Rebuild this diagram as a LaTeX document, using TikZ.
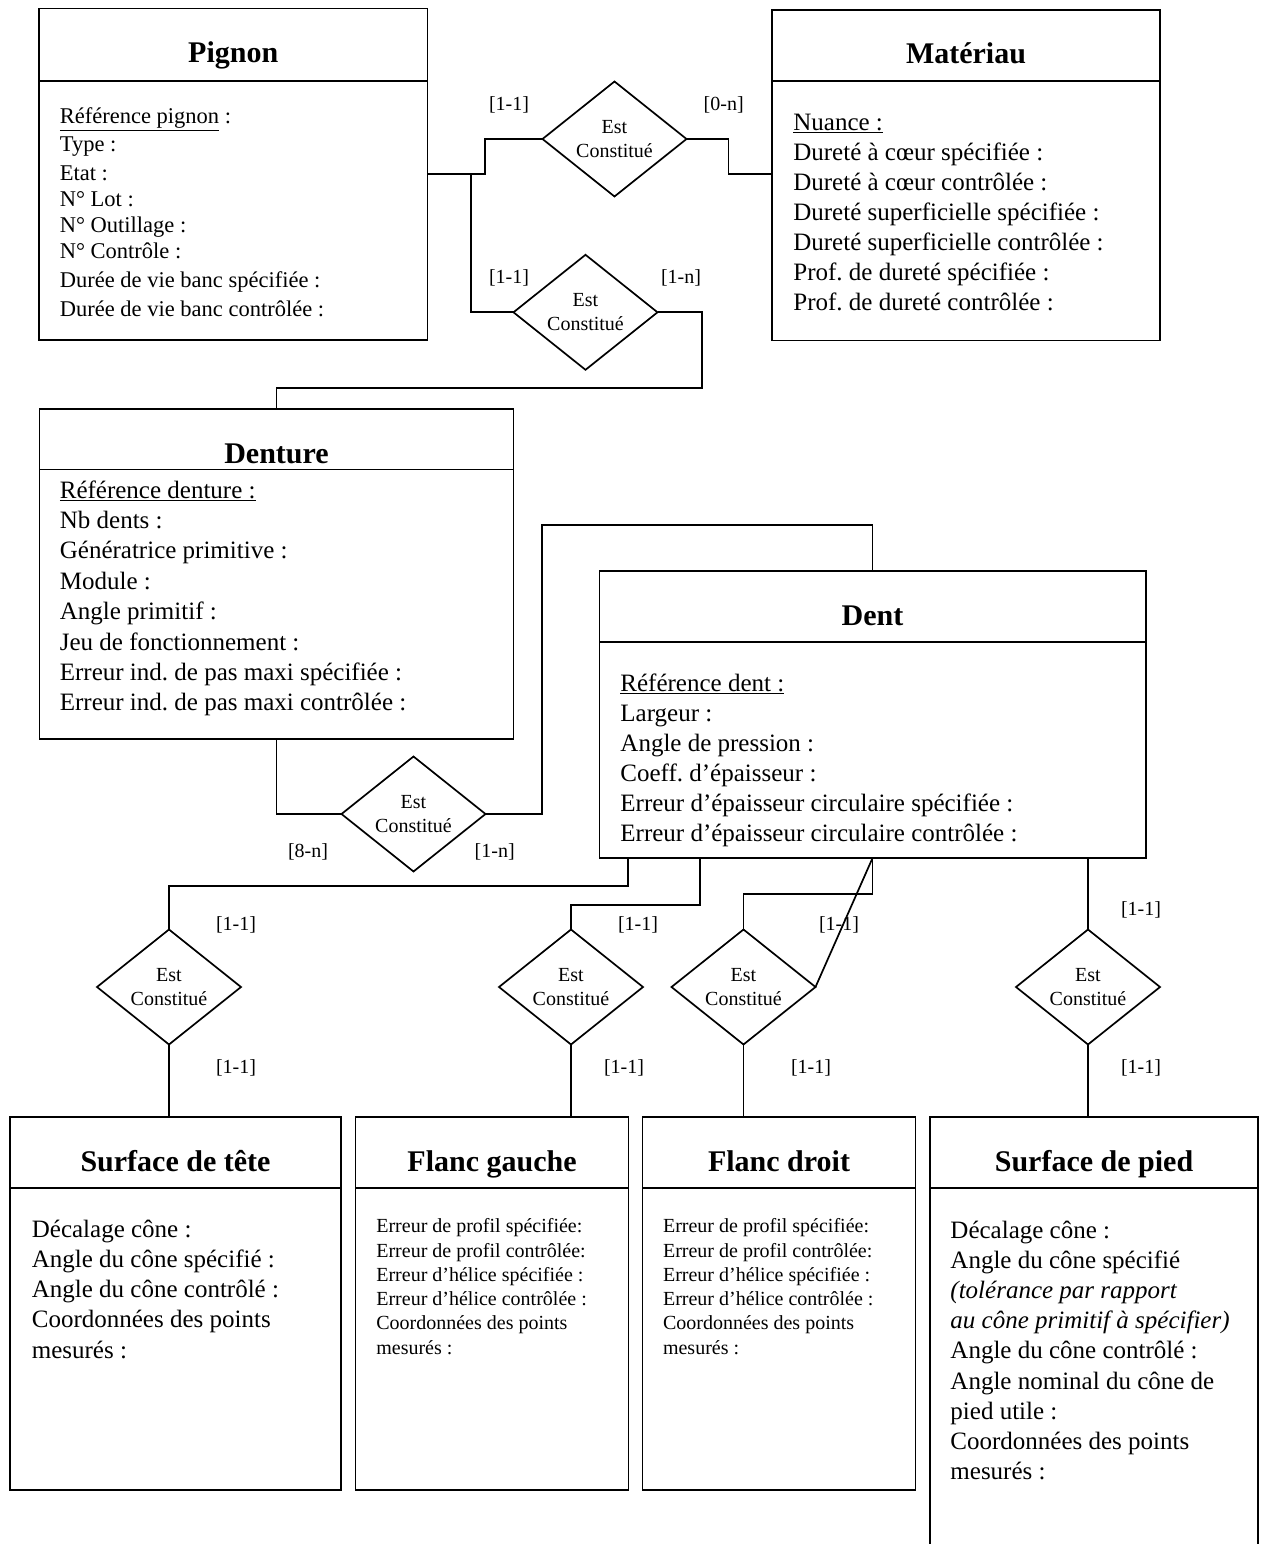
\documentclass[tikz,border=0pt]{standalone}
\usepackage{fontspec}
\setmainfont{Liberation Serif}
\usetikzlibrary{shapes.geometric}
\frenchspacing
\begin{document}
\begin{tikzpicture}[x=1pt,y=-1pt, line width=1.7pt,
  entity/.style={draw, rectangle, inner sep=0pt, outer sep=0pt, anchor=north west},
  title/.style={font=\fontsize{30}{36}\selectfont\bfseries, anchor=base, inner sep=0pt},
  attr/.style={font=\fontsize{25}{30}\selectfont, anchor=base west, inner sep=0pt},
  attrmid/.style={font=\fontsize{22.5}{27}\selectfont, anchor=base west, inner sep=0pt},
  attrsmall/.style={font=\fontsize{20}{24}\selectfont, anchor=base west, inner sep=0pt},
  rel/.style={draw, shape=diamond, aspect=1.26, minimum width=144pt, minimum height=115pt,
              inner sep=0pt, outer sep=0pt, font=\fontsize{20}{24}\selectfont, align=center},
  card/.style={font=\fontsize{20}{24}\selectfont, inner sep=0pt}]
\useasboundingbox (0,0) rectangle (1262,1544);
\clip (0,0) rectangle (1262,1544);

% ---------- entities ----------
\node[entity, minimum width=388.5pt, minimum height=331.5pt] (pignon) at (39,8.5) {};
\node[entity, minimum width=388pt, minimum height=330.5pt] (materiau) at (772,10) {};
\node[entity, minimum width=474pt, minimum height=330pt] (denture) at (39.6,409) {};
\node[entity, minimum width=546.3pt, minimum height=287.3pt] (dent) at (599.4,570.7) {};
\node[entity, minimum width=331pt, minimum height=373.3pt] (tete) at (10,1116.7) {};
\node[entity, minimum width=273.1pt, minimum height=373.3pt] (fgauche) at (355.5,1116.7) {};
\node[entity, minimum width=273.1pt, minimum height=373.3pt] (fdroit) at (642.5,1116.7) {};
\node[entity, minimum width=328pt, minimum height=480pt] (pied) at (930,1116.7) {};

% header lines
\coordinate (hA) at (0,81);
\coordinate (hB) at (0,469.5);
\coordinate (hC) at (0,642.3);
\coordinate (hD) at (0,1188.3);
\draw (pignon.west |- hA) -- (pignon.east |- hA);
\draw (materiau.west |- hA) -- (materiau.east |- hA);
\draw (denture.west |- hB) -- (denture.east |- hB);
\draw (dent.west |- hC) -- (dent.east |- hC);
\draw (tete.west |- hD) -- (tete.east |- hD);
\draw (fgauche.west |- hD) -- (fgauche.east |- hD);
\draw (fdroit.west |- hD) -- (fdroit.east |- hD);
\draw (pied.west |- hD) -- (pied.east |- hD);

% titles
\node[title] (pignonT) at (233.2,63) {Pignon};
\node[title] (materiauT) at (966,64) {Matériau};
\node[title] (dentureT) at (276.5,463) {Denture};
\node[title] (dentT) at (872.5,625) {Dent};
\node[title] (teteT) at (175.5,1171) {Surface de tête};
\node[title] (fgaucheT) at (492,1171) {Flanc gauche};
\node[title] (fdroitT) at (779,1171) {Flanc droit};
\node[title] (piedT) at (1094,1171) {Surface de pied};

% attributes
\foreach \yy/\t [count=\i] in {123.7/{\underline{Référence pignon} :}, 151/{Type :}, 180/{Etat :},
   206/{N° Lot :}, 232.7/{N° Outillage :}, 258.7/{N° Contrôle :},
   287/{Durée de vie banc spécifiée :}, 316/{Durée de vie banc contrôlée :}}
  \node[attrmid] (pig-\i) at (59,\yy) {\t};

\foreach \t [count=\i from 0] in {{\underline{Nuance :}}, {Dureté à cœur spécifiée :},
   {Dureté à cœur contrôlée :}, {Dureté superficielle spécifiée :},
   {Dureté superficielle contrôlée :}, {Prof. de dureté spécifiée :}, {Prof. de dureté contrôlée :}}
  \node[attr] (mat-\i) at (792.5,130.5+30.05*\i) {\t};

\foreach \t [count=\i from 0] in {{\underline{Référence denture :}}, {Nb dents :},
   {Génératrice primitive :}, {Module :}, {Angle primitif :}, {Jeu de fonctionnement :},
   {Erreur ind. de pas maxi spécifiée :}, {Erreur ind. de pas maxi contrôlée :}}
  \node[attr] (den-\i) at (59,498+30.4*\i) {\t};

\foreach \t [count=\i from 0] in {{\underline{Référence dent :}}, {Largeur :},
   {Angle de pression :}, {Coeff. d’épaisseur :},
   {Erreur d’épaisseur circulaire spécifiée :}, {Erreur d’épaisseur circulaire contrôlée :}}
  \node[attr] (dnt-\i) at (619.6,691+30*\i) {\t};

\foreach \t [count=\i from 0] in {{Décalage cône :}, {Angle du cône spécifié :},
   {Angle du cône contrôlé :}, {Coordonnées des points}, {mesurés :}}
  \node[attr] (tet-\i) at (31,1237+30.25*\i) {\t};

\foreach \t [count=\i from 0] in {{Erreur de profil spécifiée:}, {Erreur de profil contrôlée:},
   {Erreur d’hélice spécifiée :}, {Erreur d’hélice contrôlée :},
   {Coordonnées des points}, {mesurés :}}
  {\node[attrsmall] (fg-\i) at (375.5,1232.7+24.3*\i) {\t};
   \node[attrsmall] (fd-\i) at (662.2,1232.7+24.3*\i) {\t};}

\foreach \t [count=\i from 0] in {{Décalage cône :}, {Angle du cône spécifié},
   {\itshape (tolérance par rapport}, {\itshape au cône primitif à spécifier)},
   {Angle du cône contrôlé :}, {Angle nominal du cône de}, {pied utile :},
   {Coordonnées des points}, {mesurés :}}
  \node[attr] (pie-\i) at (949.6,1238+30.2*\i) {\t};

% ---------- relations ----------
\node[rel] (d1) at (614.5,139) {Est\\Constitué};
\node[rel] (d2) at (585.5,312.3) {Est\\Constitué};
\node[rel] (d3) at (413.5,814) {Est\\Constitué};
\node[rel] (d4) at (169,987) {Est\\Constitué};
\node[rel] (d5) at (571,987) {Est\\Constitué};
\node[rel] (d6) at (743.5,987) {Est\\Constitué};
\node[rel] (d7) at (1088,987) {Est\\Constitué};

% ---------- connectors ----------
\coordinate (j1) at (484.7,139);
\coordinate (j2) at (471,174);
\coordinate (j2b) at (728.6,174);
\coordinate (j3) at (702,388.3);
\coordinate (j4) at (542,525);
\coordinate (b1x) at (628,0);
\coordinate (b2x) at (700,0);
\coordinate (h4) at (0,886);
\coordinate (h5) at (0,905);
\coordinate (h6) at (0,894);

\draw (pignon.east |- j2) -| (j1) -- (d1.west);
\draw (d1.east) -| (j2b) -- (materiau.west |- j2b);
\draw (j2) |- (d2.west);
\draw (d2.east) -| (j3) -| (denture.north);
\draw (denture.south) |- (d3.west);
\draw (d3.east) -| (j4) -| (dent.north);

\draw (dent.south -| b1x) |- (d4.north |- h4) -- (d4.north);
\draw (dent.south -| b2x) |- (d5.north |- h5) -- (d5.north);
\draw (dent.south) |- (d6.north |- h6) -- (d6.north);
\draw (dent.south) -- (d6.east);
\draw (dent.south -| d7.north) -- (d7.north);

\draw (d4.south) -- (d4.south |- tete.north);
\draw (d5.south) -- (d5.south |- fgauche.north);
\draw (d6.south) -- (d6.south |- fdroit.north);
\draw (d7.south) -- (d7.south |- pied.north);

% ---------- cardinalities ----------
\node[card] (k1) at (509,105) {[1-1]};
\node[card] (k2) at (723.7,105) {[0-n]};
\node[card] (k3) at (509,278.3) {[1-1]};
\node[card] (k4) at (681,278.3) {[1-n]};
\node[card] (k5) at (308,851.7) {[8-n]};
\node[card] (k6) at (494.7,851.7) {[1-n]};
\node[card] (k7) at (236,925) {[1-1]};
\node[card] (k8) at (236,1068) {[1-1]};
\node[card] (k9) at (638,925) {[1-1]};
\node[card] (k10) at (624,1068) {[1-1]};
\node[card] (k11) at (839,925) {[1-1]};
\node[card] (k12) at (811,1068) {[1-1]};
\node[card] (k13) at (1141,910) {[1-1]};
\node[card] (k14) at (1141,1068) {[1-1]};
\end{tikzpicture}
\end{document}
